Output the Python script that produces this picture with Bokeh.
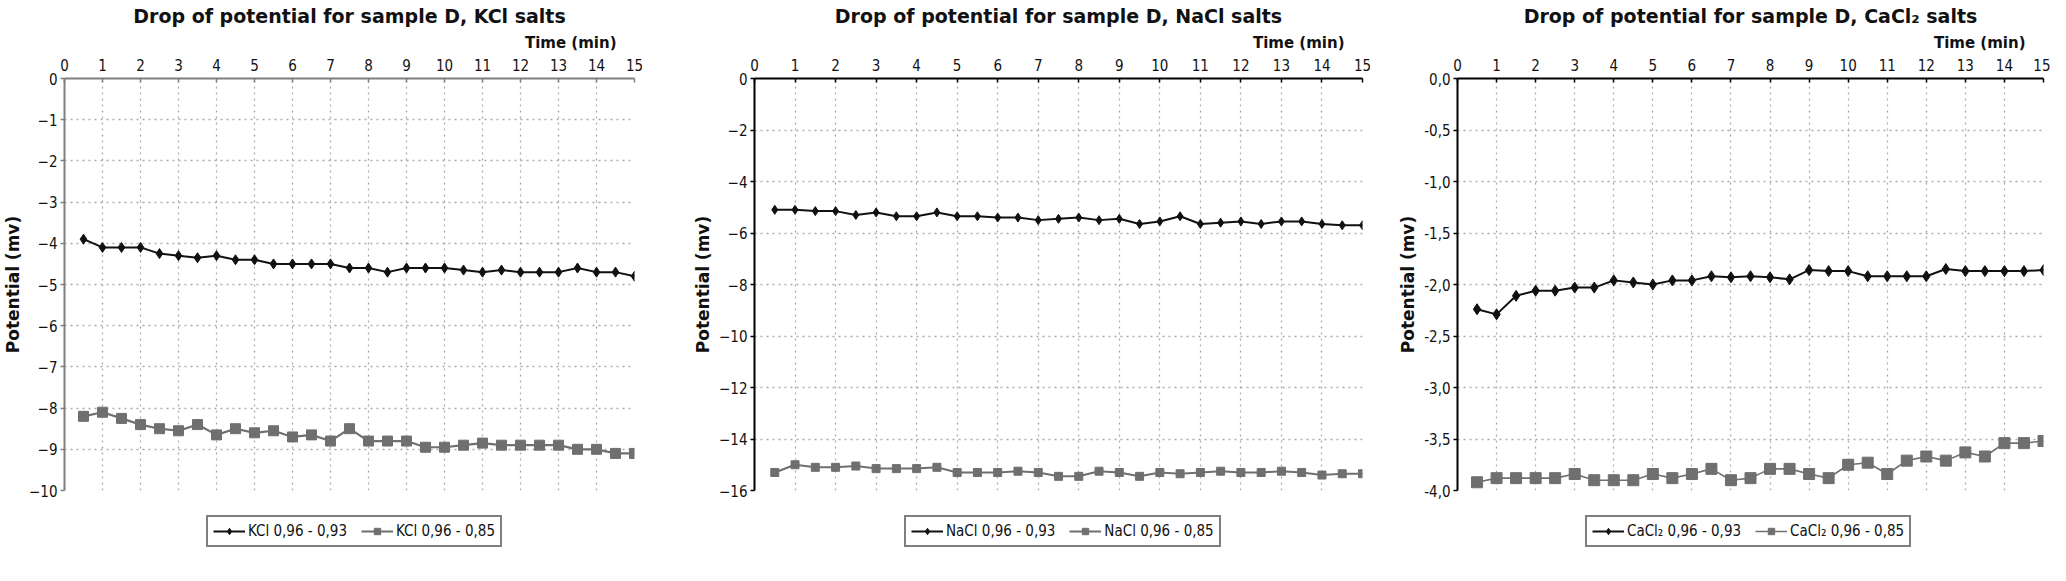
from bokeh.plotting import figure
from bokeh.models import Range1d, FixedTicker, Title, Legend, LegendItem
from bokeh.layouts import row, column
from bokeh.embed import file_html
from bokeh.resources import INLINE

# ---------------- data ----------------
time_min = [0.5, 1.0, 1.5, 2.0, 2.5, 3.0, 3.5, 4.0, 4.5, 5.0,
            5.5, 6.0, 6.5, 7.0, 7.5, 8.0, 8.5, 9.0, 9.5, 10.0,
            10.5, 11.0, 11.5, 12.0, 12.5, 13.0, 13.5, 14.0, 14.5, 15.0]

kcl_093 = [-3.9, -4.1, -4.1, -4.1, -4.25, -4.3, -4.35, -4.3, -4.4, -4.4,
           -4.5, -4.5, -4.5, -4.5, -4.6, -4.6, -4.7, -4.6, -4.6, -4.6,
           -4.65, -4.7, -4.65, -4.7, -4.7, -4.7, -4.6, -4.7, -4.7, -4.8]
kcl_085 = [-8.2, -8.1, -8.25, -8.4, -8.5, -8.55, -8.4, -8.65, -8.5, -8.6,
           -8.55, -8.7, -8.65, -8.8, -8.5, -8.8, -8.8, -8.8, -8.95, -8.95,
           -8.9, -8.85, -8.9, -8.9, -8.9, -8.9, -9.0, -9.0, -9.1, -9.1]

nacl_093 = [-5.1, -5.1, -5.15, -5.15, -5.3, -5.2, -5.35, -5.35, -5.2, -5.35,
            -5.35, -5.4, -5.4, -5.5, -5.45, -5.4, -5.5, -5.45, -5.65, -5.55,
            -5.35, -5.65, -5.6, -5.55, -5.65, -5.55, -5.55, -5.65, -5.7, -5.7]
nacl_085 = [-15.3, -15.0, -15.1, -15.1, -15.05, -15.15, -15.15, -15.15, -15.1, -15.3,
            -15.3, -15.3, -15.25, -15.3, -15.45, -15.45, -15.25, -15.3, -15.45, -15.3,
            -15.35, -15.3, -15.25, -15.3, -15.3, -15.25, -15.3, -15.4, -15.35, -15.35]

cacl_093 = [-2.24, -2.29, -2.11, -2.06, -2.06, -2.03, -2.03, -1.96, -1.98, -2.0,
            -1.96, -1.96, -1.92, -1.93, -1.92, -1.93, -1.95, -1.86, -1.87, -1.87,
            -1.92, -1.92, -1.92, -1.92, -1.85, -1.87, -1.87, -1.87, -1.87, -1.86]
cacl_085 = [-3.92, -3.88, -3.88, -3.88, -3.88, -3.84, -3.90, -3.90, -3.90, -3.84,
            -3.88, -3.84, -3.79, -3.90, -3.88, -3.79, -3.79, -3.84, -3.88, -3.75,
            -3.73, -3.84, -3.71, -3.67, -3.71, -3.63, -3.67, -3.54, -3.54, -3.52]

x_ticks = [0, 1, 2, 3, 4, 5, 6, 7, 8, 9, 10, 11, 12, 13, 14, 15]

kcl_yticks = [0, -1, -2, -3, -4, -5, -6, -7, -8, -9, -10]
nacl_yticks = [0, -2, -4, -6, -8, -10, -12, -14, -16]
cacl_yticks = [0.0, -0.5, -1.0, -1.5, -2.0, -2.5, -3.0, -3.5, -4.0]
cacl_ylabels = ["0,0", "-0,5", "-1,0", "-1,5", "-2,0", "-2,5", "-3,0", "-3,5", "-4,0"]

titles = ["Drop of potential for sample D, KCl salts",
          "Drop of potential for sample D, NaCl salts",
          "Drop of potential for sample D, CaCl\u2082 salts"]
legend_labels = [("KCl 0,96 - 0,93", "KCl 0,96 - 0,85"),
                 ("NaCl 0,96 - 0,93", "NaCl 0,96 - 0,85"),
                 ("CaCl\u2082 0,96 - 0,93", "CaCl\u2082 0,96 - 0,85")]

FONT = "DejaVu Sans Condensed"
BOLD_FONT = "DejaVu Sans"
PLOT_H = 506
LEG_H = 58
DARK = "#111111"
GREY = "#6f6f6f"


def add_series(fig, s1, s2, m1_size, m2_size, c2_width):
    l2 = fig.line(time_min, s2, line_color=GREY, line_width=c2_width)
    m2 = fig.scatter(time_min, s2, marker="square", size=m2_size,
                     fill_color=GREY, line_color=GREY)
    l1 = fig.line(time_min, s1, line_color=DARK, line_width=2)
    m1 = fig.scatter(time_min, s1, marker="diamond", size=m1_size,
                     fill_color=DARK, line_color=DARK)
    return l1, m1, l2, m2


def make_panel(title, s1, s2, labels, yticks, ylabels, width, bl, br,
               axis_color, m1_size, m2_size, c2_width, legend_x):
    p = figure(width=width, height=PLOT_H,
               x_range=Range1d(0, 15), y_range=Range1d(min(yticks), 0),
               x_axis_location="above", toolbar_location=None,
               output_backend="svg",
               min_border_left=bl, min_border_right=br,
               min_border_top=78, min_border_bottom=16)
    p.title.visible = False
    p.outline_line_color = None
    p.background_fill_color = "white"

    xt = FixedTicker(ticks=x_ticks)
    yt = FixedTicker(ticks=yticks)
    xa = p.xaxis[0]
    ya = p.yaxis[0]
    xa.ticker = xt
    ya.ticker = yt
    p.xgrid.ticker = xt
    p.ygrid.ticker = yt
    if ylabels is not None:
        ya.major_label_overrides = {v: l for v, l in zip(yticks, ylabels)}

    for ax in (xa, ya):
        ax.axis_line_color = axis_color
        ax.axis_line_width = 2
        ax.major_tick_line_color = axis_color
        ax.major_tick_line_width = 1.5
        ax.minor_tick_line_color = None
        ax.major_label_text_font = FONT
        ax.major_label_text_font_size = "15px"
        ax.major_label_text_color = DARK
    xa.major_tick_in = 4
    xa.major_tick_out = 0
    xa.major_label_standoff = 8
    ya.major_tick_in = 0
    ya.major_tick_out = 4
    ya.major_label_standoff = 3
    ya.axis_label = "Potential (mv)"
    ya.axis_label_text_font = BOLD_FONT
    ya.axis_label_text_font_style = "bold"
    ya.axis_label_text_font_size = "17px"
    ya.axis_label_standoff = 3
    ya.axis_label_text_color = DARK

    for g in (p.xgrid, p.ygrid):
        g.grid_line_color = "#ababab"
        g.grid_line_dash = "2 4"
        g.grid_line_width = 1.3

    p.add_layout(Title(text="Time (min)", align="right", offset=18,
                       text_font=BOLD_FONT, text_font_style="bold",
                       text_font_size="15px", text_color=DARK,
                       standoff=8), "above")
    p.add_layout(Title(text=title, align="center",
                       text_font=BOLD_FONT, text_font_style="bold",
                       text_font_size="19px", text_color=DARK,
                       standoff=2), "above")

    add_series(p, s1, s2, m1_size, m2_size, c2_width)

    # legend strip below the plot (same styles, its own glyphs kept outside its view)
    lf = figure(width=width, height=LEG_H,
                x_range=Range1d(100, 101), y_range=Range1d(100, 101),
                x_axis_location=None, y_axis_location=None,
                toolbar_location=None, output_backend="svg", min_border=0)
    lf.title.visible = False
    lf.outline_line_color = None
    lf.xgrid.visible = False
    lf.ygrid.visible = False
    l1, m1, l2, m2 = add_series(lf, s1, s2, m1_size, m2_size, c2_width)
    legend = Legend(items=[LegendItem(label=labels[0], renderers=[l1, m1]),
                           LegendItem(label=labels[1], renderers=[l2, m2])],
                    orientation="horizontal", location=(legend_x, 17),
                    border_line_color="black", border_line_width=2,
                    label_text_font=FONT, label_text_font_size="15px",
                    label_text_color=DARK,
                    glyph_width=32, glyph_height=16, spacing=14,
                    padding=5, margin=0, label_standoff=3,
                    background_fill_color="white")
    lf.add_layout(legend, "center")
    return column(p, lf, spacing=0)


c1 = make_panel(titles[0], kcl_093, kcl_085, legend_labels[0], kcl_yticks, None,
                690, 39, 56, "#7f7f7f", 10, 10, 2.2, 142)
c2 = make_panel(titles[1], nacl_093, nacl_085, legend_labels[1], nacl_yticks, None,
                690, 58, 18, "#000000", 9, 8, 2, 150)
c3 = make_panel(titles[2], cacl_093, cacl_085, legend_labels[2], cacl_yticks, cacl_ylabels,
                670, 77, 7, "#000000", 11, 11, 1.6, 128)

layout = row(c1, c2, c3, spacing=0)
open("out.html", "w").write(file_html(layout, INLINE))
